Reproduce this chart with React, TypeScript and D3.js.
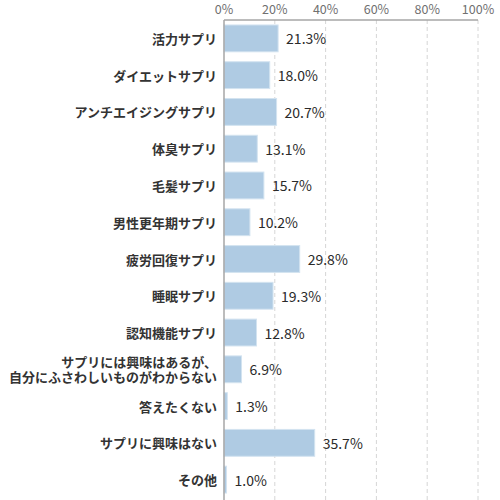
import * as d3 from 'd3';

const CATEGORIES = [
  ['活力サプリ'],
  ['ダイエットサプリ'],
  ['アンチエイジングサプリ'],
  ['体臭サプリ'],
  ['毛髪サプリ'],
  ['男性更年期サプリ'],
  ['疲労回復サプリ'],
  ['睡眠サプリ'],
  ['認知機能サプリ'],
  ['サプリには興味はあるが、', '自分にふさわしいものがわからない'],
  ['答えたくない'],
  ['サプリに興味はない'],
  ['その他'],
];
const VALUES = [21.3, 18.0, 20.7, 13.1, 15.7, 10.2, 29.8, 19.3, 12.8, 6.9, 1.3, 35.7, 1.0];
const TICKS = [0, 20, 40, 60, 80, 100];

const WIDTH = 500;
const HEIGHT = 500;
const MARGIN = { top: 20, right: 22, bottom: 2, left: 224 };
const FONT = '"Noto Sans CJK JP", "Noto Sans", sans-serif';

export default function App() {
  const keys = CATEGORIES.map((c) => c.join(''));
  const x = d3
    .scaleLinear()
    .domain([0, 100])
    .range([MARGIN.left, WIDTH - MARGIN.right]);
  const y = d3
    .scaleBand()
    .domain(keys)
    .range([MARGIN.top, HEIGHT - MARGIN.bottom])
    .paddingInner(0.27)
    .paddingOuter(0.135);

  return (
    <svg
      width={WIDTH}
      height={HEIGHT}
      style={{ position: 'absolute', left: 0, top: 0, background: '#fff' }}
      fontFamily={FONT}
    >
      {/* grid */}
      {TICKS.filter((t) => t > 0).map((t) => (
        <line
          key={t}
          x1={x(t)}
          x2={x(t)}
          y1={MARGIN.top}
          y2={HEIGHT}
          stroke="#d6d6d6"
          strokeDasharray="4,3"
          strokeWidth={1}
        />
      ))}
      {TICKS.map((t) => (
        <text
          key={t}
          x={x(t)}
          y={14}
          textAnchor="middle"
          fontSize={12.5}
          fill="#707070"
        >
          {t}%
        </text>
      ))}

      {/* bars */}
      {VALUES.map((v, i) => {
        const yy = y(keys[i]) ?? 0;
        const bw = y.bandwidth();
        return (
          <g key={i}>
            <rect
              x={x(0)}
              y={yy}
              width={x(v) - x(0)}
              height={bw}
              fill="#afcbe3"
              stroke="#d3e3f0"
              strokeWidth={1}
            />
            <text
              x={x(v) + 8}
              y={yy + bw / 2}
              dominantBaseline="central"
              fontSize={14}
              fill="#2a2a2a"
              fontWeight={400}
            >
              {v.toFixed(1)}%
            </text>
          </g>
        );
      })}

      {/* category labels */}
      {CATEGORIES.map((lines, i) => {
        const cy = (y(keys[i]) ?? 0) + y.bandwidth() / 2;
        const lh = 15;
        return (
          <text
            key={i}
            x={x(0) - 7}
            textAnchor="end"
            fontSize={13}
            fontWeight="bold"
            fill="#333"
          >
            {lines.map((l, j) => (
              <tspan
                key={j}
                x={x(0) - 7}
                y={cy + (j - (lines.length - 1) / 2) * lh}
                dominantBaseline="central"
              >
                {l}
              </tspan>
            ))}
          </text>
        );
      })}

      {/* axes */}
      <line x1={x(0)} x2={x(100)} y1={MARGIN.top} y2={MARGIN.top} stroke="#a6a6a6" strokeWidth={1.5} />
      <line x1={x(0)} x2={x(0)} y1={MARGIN.top} y2={HEIGHT} stroke="#a6a6a6" strokeWidth={1.5} />
    </svg>
  );
}
